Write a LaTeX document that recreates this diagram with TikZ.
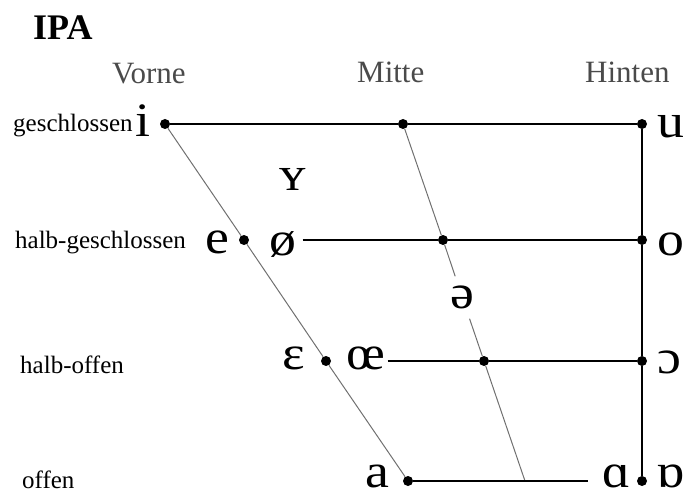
\documentclass[tikz,border=0pt]{standalone}
\usepackage{fontspec}
\setmainfont{Liberation Serif}
\newfontfamily\ipafont[FakeStretch=1.12]{Liberation Serif}
\usetikzlibrary{positioning}
\definecolor{headgray}{HTML}{4A4A4A}
\definecolor{slantgray}{HTML}{707070}
\tikzset{
    vowel/.style={
        font=\ipafont\fontsize{48}{50}\selectfont, inner sep=0pt,
        text height=22pt, text depth=0pt
    },
    vdot/.style={
        circle, fill=black, inner sep=0pt, minimum size=10pt
    },
    rowlabel/.style={
        font=\fontsize{25}{27}\selectfont, anchor=base west, inner sep=0pt
    },
    colhead/.style={
        font=\fontsize{31}{33}\selectfont, text=headgray, anchor=base west, inner sep=0pt
    },
    rowline/.style={line width=2pt, draw=black},
    slantline/.style={line width=1pt, draw=slantgray}
}

\begin{document}
\begin{tikzpicture}[x=1pt, y=-1pt]
      \useasboundingbox (0,0) rectangle (686,492);

      \node[font=\bfseries\fontsize{36}{38}\selectfont, anchor=base west, inner sep=0pt] (title) at (33,40) {IPA};
      \node[colhead] (vorne) at (112,84) {Vorne};
      \node[colhead] (mitte) at (357,83) {Mitte};
      \node[colhead] (hinten) at (585,83) {Hinten};

      \node[rowlabel] (geschl) at (13,132) {geschlossen};
      \node[rowlabel] (hgeschl) at (15,248) {halb-geschlossen};
      \node[rowlabel] (hoffen) at (20,373) {halb-offen};
      \node[rowlabel] (offen) at (22,488) {offen};

      % points of the chart
      \node[vdot] (iD) at (165,124) {};
      \node[vdot] (mD) at (403,124) {};
      \node[vdot] (uD) at (642,124) {};
      \node[vdot] (eD) at (244,240) {};
      \node[vdot] (m2) at (443,240) {};
      \node[vdot] (oD) at (642,240) {};
      \node[vdot] (epsD) at (326,361) {};
      \node[vdot] (m3) at (484,361) {};
      \node[vdot] (cD) at (642,361) {};
      \node[vdot] (aD) at (408,481) {};
      \node[vdot] (bD) at (642,481) {};
      \coordinate (mBot) at (525,481);
      \coordinate (aEnd) at (588,481);

      % vowels
      \node[vowel] (vi) at (143,126) {i};
      \node[vowel] (vu) at (671,127) {u};
      \node[vowel] (vy) at (293,179) {ʏ};
      \node[vowel] (ve) at (217,243) {e};
      \node[vowel] (voslash) at (283,244) {ø};
      \node[vowel] (vo) at (671,244) {o};
      \node[vowel, inner xsep=2pt, inner ysep=10pt] (vschwa) at (462.3,297.5) {ə};
      \node[vowel] (veps) at (294,358) {ɛ};
      \node[vowel] (voe) at (366,358) {œ};
      \node[vowel] (vopeno) at (669,362) {ɔ};
      \node[vowel] (va) at (377,476) {a};
      \node[vowel] (valpha) at (617,476) {ɑ};
      \node[vowel] (vturn) at (671,476) {ɒ};

      \draw[slantline] (iD) -- (eD) -- (epsD) -- (aD);
      \draw[slantline] (mD) -- (m2) -- (vschwa);
      \draw[slantline] (vschwa) -- (m3) -- (mBot);

      \draw[rowline] (iD) -- (mD) -- (uD);
      \draw[rowline] ([xshift=6pt]voslash.east |- m2) -- (m2) -- (oD);
      \draw[rowline] ([xshift=2pt]voe.east |- m3) -- (m3) -- (cD);
      \draw[rowline] (aD) -- (aEnd);
      \draw[rowline] (uD) -- (oD) -- (cD) -- (bD);
    \end{tikzpicture}
\end{document}
